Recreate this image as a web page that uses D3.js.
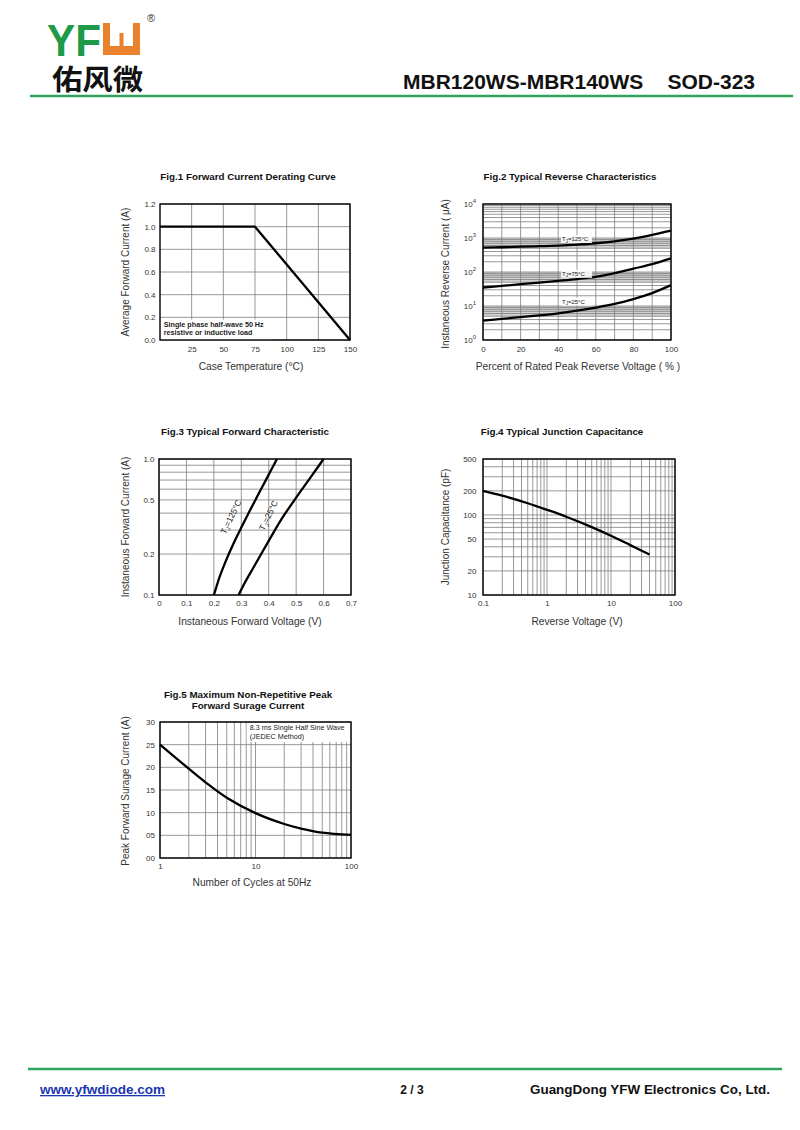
<!DOCTYPE html>
<html><head><meta charset="utf-8">
<script src="https://cdn.jsdelivr.net/npm/d3@7"></script>
<style>body{margin:0;background:#fff}</style>
</head><body>
<script>
// ---------------- data ----------------
const fig1Temp = [0, 75, 150];
const fig1Current = [1.0, 1.0, 0.0];
const fig1XTicks = [25, 50, 75, 100, 125, 150];
const fig1YTicks = [0, 0.2, 0.4, 0.6, 0.8, 1.0, 1.2];

const fig2Pct = [0, 10, 20, 30, 40, 50, 60, 70, 80, 90, 100];
const fig2I125 = [520, 535, 555, 575, 600, 640, 700, 800, 960, 1230, 1640];
const fig2I75 = [35, 39, 44, 49, 55, 62, 72, 92, 125, 170, 250];
const fig2I25 = [3.7, 4.2, 4.7, 5.3, 6.1, 7.3, 9.0, 11.5, 16, 24, 41];
const fig2XTicks = [0, 20, 40, 60, 80, 100];
const fig2YTicks = [1, 10, 100, 1000, 10000];
const fig2Bands = [[5, 10], [50, 100], [500, 1000]];
const fig2Labels = ["125", "75", "25"];
const fig2LabelY = [930, 88, 13.4];

const fig3V125 = [0.2, 0.21, 0.22, 0.24, 0.27, 0.3, 0.35, 0.4, 0.43];
const fig3I125 = [0.1, 0.116, 0.134, 0.171, 0.235, 0.313, 0.494, 0.768, 1.0];
const fig3V25 = [0.29, 0.31, 0.345, 0.40, 0.45, 0.50, 0.55, 0.60];
const fig3I25 = [0.1, 0.12, 0.16, 0.25, 0.37, 0.52, 0.72, 1.0];
const fig3XTicks = [0, 0.1, 0.2, 0.3, 0.4, 0.5, 0.6, 0.7];
const fig3YTicks = [0.1, 0.2, 0.5, 1.0];

const fig4V = [0.1, 0.2, 0.5, 1, 2, 5, 10, 20, 40];
const fig4C = [200, 174, 140, 116, 95, 70.5, 55, 42, 32];
const fig4XTicks = [0.1, 1, 10, 100];
const fig4YTicks = [10, 20, 50, 100, 200, 500];

const fig5Cycles = [1, 2, 3, 5, 10, 20, 30, 50, 100];
const fig5Surge = [25, 19.7, 16.7, 13.3, 9.9, 7.5, 6.5, 5.6, 5.1];
const fig5XTicks = [1, 10, 100];
const fig5YTicks = [0, 5, 10, 15, 20, 25, 30];

// ---------------- drawing ----------------
const FONT = "'Liberation Sans', Arial, sans-serif";
const svg = d3.select("body").append("svg")
  .attr("width", 800).attr("height", 1130)
  .style("font-family", FONT);

// Header
const GREEN = "#2ea35c";
svg.append("text").attr("x", 47).attr("y", 55.5)
  .attr("font-size", 45).attr("font-weight", "bold").attr("fill", "#1f9a48")
  .attr("textLength", 54).attr("lengthAdjust", "spacingAndGlyphs").text("YF");
svg.append("path")
  .attr("d", "M103,23 H110 V46 H119.5 V33 H123.5 V46 H133 V23 H140 V55 H103 Z")
  .attr("fill", "#ea812c");
svg.append("text").attr("x", 147).attr("y", 22).attr("font-size", 11).attr("fill", "#333").text("®");
svg.append("text").attr("x", 52).attr("y", 89.8)
  .attr("font-family", "'Noto Sans CJK SC', sans-serif")
  .attr("font-size", 28).attr("font-weight", "bold").attr("fill", "#111")
  .attr("textLength", 91).attr("lengthAdjust", "spacingAndGlyphs").text("佑风微");
svg.append("text").attr("x", 403).attr("y", 89).attr("font-size", 21).attr("font-weight", "bold")
  .attr("fill", "#111").text("MBR120WS-MBR140WS");
svg.append("text").attr("x", 755).attr("y", 89).attr("font-size", 21).attr("font-weight", "bold")
  .attr("fill", "#111").attr("text-anchor", "end").text("SOD-323");
svg.append("line").attr("x1", 30).attr("x2", 793).attr("y1", 96).attr("y2", 96)
  .attr("stroke", GREEN).attr("stroke-width", 2.5);

// Footer
svg.append("line").attr("x1", 28).attr("x2", 782).attr("y1", 1069).attr("y2", 1069)
  .attr("stroke", GREEN).attr("stroke-width", 2.5);
svg.append("text").attr("x", 40).attr("y", 1094).attr("font-size", 13).attr("font-weight", "bold")
  .attr("fill", "#1a36b0").attr("text-decoration", "underline")
  .attr("textLength", 125).attr("lengthAdjust", "spacingAndGlyphs").text("www.yfwdiode.com");
svg.append("text").attr("x", 412).attr("y", 1094).attr("font-size", 12).attr("font-weight", "bold")
  .attr("text-anchor", "middle").attr("fill", "#111").text("2 / 3");
svg.append("text").attr("x", 530).attr("y", 1094).attr("font-size", 13).attr("font-weight", "bold")
  .attr("fill", "#111").attr("textLength", 240).attr("lengthAdjust", "spacingAndGlyphs")
  .text("GuangDong YFW Electronics Co, Ltd.");

function panel(o) {
  const g = svg.append("g");
  const x = o.x, y = o.y;
  const [x0, x1] = x.range();
  const [yb, yt] = y.range();
  (o.bands || []).forEach(b => {
    g.append("rect").attr("x", x0).attr("width", x1 - x0)
      .attr("y", y(b[1])).attr("height", y(b[0]) - y(b[1])).attr("fill", "#d2d2d2");
  });
  g.selectAll(".vg").data(o.xGrid).join("line")
    .attr("x1", d => x(d)).attr("x2", d => x(d)).attr("y1", yt).attr("y2", yb)
    .attr("stroke", "#7d7d7d").attr("stroke-width", 0.8);
  g.selectAll(".hg").data(o.yGrid).join("line")
    .attr("y1", d => y(d)).attr("y2", d => y(d)).attr("x1", x0).attr("x2", x1)
    .attr("stroke", "#7d7d7d").attr("stroke-width", 0.8);
  if (o.note) o.note(g, x, y);
  g.append("rect").attr("x", x0).attr("y", yt).attr("width", x1 - x0).attr("height", yb - yt)
    .attr("fill", "none").attr("stroke", "#000").attr("stroke-width", 1.4);
  const line = d3.line().x(d => x(d[0])).y(d => y(d[1])).curve(o.curve || d3.curveCatmullRom.alpha(0.5));
  o.series.forEach(s => {
    g.append("path").datum(d3.zip(s[0], s[1])).attr("d", line)
      .attr("fill", "none").attr("stroke", "#000").attr("stroke-width", 2.3).attr("stroke-linejoin", "round");
  });
  const ax = g.append("g").attr("transform", `translate(0,${yb})`)
    .call(d3.axisBottom(x).tickValues(o.xTicks).tickFormat(o.xFmt).tickSize(0).tickPadding(o.xPad));
  ax.select(".domain").remove();
  ax.attr("font-family", FONT).attr("font-size", 8).selectAll("text").attr("fill", "#333");
  const ay = g.append("g").attr("transform", `translate(${x0},0)`)
    .call(d3.axisLeft(y).tickValues(o.yTicks).tickFormat(o.yFmt).tickSize(0).tickPadding(o.yPad));
  ay.select(".domain").remove();
  ay.attr("font-family", FONT).attr("font-size", 8).selectAll("text").attr("fill", "#333");
  if (o.yPost) o.yPost(ay);
  o.title.forEach((t, i) => {
    g.append("text").attr("x", o.titleX).attr("y", o.titleY + i * 11).attr("text-anchor", "middle")
      .attr("font-size", 9.8).attr("font-weight", "bold").attr("fill", "#111").text(t);
  });
  g.append("text").attr("x", o.xLabelX).attr("y", o.xLabelY).attr("text-anchor", "middle")
    .attr("font-size", 10.2).attr("fill", "#333").text(o.xLabel);
  g.append("text").attr("transform", `translate(${o.yLabelX},${o.yLabelY}) rotate(-90)`)
    .attr("text-anchor", "middle").attr("dy", "0.35em")
    .attr("font-size", 10).attr("fill", "#333").text(o.yLabel);
  if (o.labels) o.labels(g, x, y);
}

// Fig.1
panel({
  x: d3.scaleLinear().domain([0, 150]).range([160, 350]),
  y: d3.scaleLinear().domain([0, 1.2]).range([340, 204]),
  xGrid: fig1XTicks, yGrid: fig1YTicks,
  xTicks: fig1XTicks, yTicks: fig1YTicks,
  xFmt: d3.format("d"), yFmt: d3.format(".1f"), xPad: 6, yPad: 4.5,
  series: [[fig1Temp, fig1Current]], curve: d3.curveLinear,
  note: (g, x, y) => {
    g.append("rect").attr("x", x(0) + 1).attr("y", y(0.18)).attr("width", x(88) - x(0))
      .attr("height", y(0) - y(0.18)).attr("fill", "#fff");
    g.append("text").attr("x", x(3)).attr("y", y(0.115)).attr("font-size", 7.2).attr("font-weight", "bold")
      .attr("fill", "#222").text("Single phase half-wave 50 Hz");
    g.append("text").attr("x", x(3)).attr("y", y(0.045)).attr("font-size", 7.2).attr("font-weight", "bold")
      .attr("fill", "#222").text("resistive or inductive load");
  },
  title: ["Fig.1  Forward Current Derating Curve"], titleX: 248, titleY: 180,
  xLabel: "Case  Temperature (°C)", xLabelX: 251, xLabelY: 370,
  yLabel: "Average Forward Current (A)", yLabelX: 125, yLabelY: 272
});

// Fig.2
panel({
  x: d3.scaleLinear().domain([0, 100]).range([483, 671]),
  y: d3.scaleLog().domain([1, 10000]).range([340, 204]),
  bands: fig2Bands,
  xGrid: d3.range(0, 101, 10), yGrid: d3.scaleLog().domain([1, 10000]).ticks(),
  xTicks: fig2XTicks, yTicks: fig2YTicks,
  xFmt: d3.format("d"), yFmt: () => "", xPad: 6, yPad: 7,
  yPost: ay => {
    ay.selectAll(".tick text").each(function(d) {
      const t = d3.select(this);
      t.text("10");
      t.append("tspan").attr("dy", -4).attr("font-size", 6).text(Math.round(Math.log10(d)));
    });
  },
  series: [[fig2Pct, fig2I125], [fig2Pct, fig2I75], [fig2Pct, fig2I25]],
  labels: (g, x, y) => {
    fig2Labels.forEach((l, i) => {
      g.append("rect").attr("x", x(42) - 1).attr("y", y(fig2LabelY[i]) - 4).attr("width", 31).attr("height", 8)
        .attr("fill", "#fff").attr("opacity", 0.85);
      const t = g.append("text").attr("x", x(42)).attr("y", y(fig2LabelY[i])).attr("dy", "0.35em")
        .attr("font-size", 6).attr("fill", "#222").text("T");
      t.append("tspan").attr("font-size", 4.5).attr("dy", 1.5).text("J");
      t.append("tspan").attr("dy", -1.5).text("=" + l + "°C");
    });
  },
  title: ["Fig.2  Typical Reverse Characteristics"], titleX: 570, titleY: 180,
  xLabel: "Percent of Rated Peak Reverse Voltage ( % )", xLabelX: 578, xLabelY: 370,
  yLabel: "Instaneous Reverse Current ( μA)", yLabelX: 445, yLabelY: 274
});

// Fig.3
panel({
  x: d3.scaleLinear().domain([0, 0.7]).range([159, 351]),
  y: d3.scaleLog().domain([0.1, 1]).range([595, 459]),
  xGrid: fig3XTicks, yGrid: d3.scaleLog().domain([0.1, 1]).ticks(),
  xTicks: fig3XTicks, yTicks: fig3YTicks,
  xFmt: d => d === 0 ? "0" : d3.format(".1f")(d), yFmt: d3.format(".1f"), xPad: 5.5, yPad: 4.5,
  series: [[fig3V125, fig3I125], [fig3V25, fig3I25]],
  labels: (g, x, y) => {
    [["125", 0.262, 0.375], ["25", 0.399, 0.385]].forEach(([l, vx, vy]) => {
      const t = g.append("text")
        .attr("transform", `translate(${x(vx)},${y(vy)}) rotate(-64)`)
        .attr("text-anchor", "middle").attr("dy", "0.35em")
        .attr("font-size", 8.5).attr("fill", "#222").text("T");
      t.append("tspan").attr("font-size", 6).attr("dy", 2).text("J");
      t.append("tspan").attr("dy", -2).text("=" + l + "°C");
    });
  },
  title: ["Fig.3  Typical Forward Characteristic"], titleX: 245, titleY: 435,
  xLabel: "Instaneous Forward Voltage (V)", xLabelX: 250, xLabelY: 625,
  yLabel: "Instaneous Forward Current  (A)", yLabelX: 125, yLabelY: 527
});

// Fig.4
panel({
  x: d3.scaleLog().domain([0.1, 100]).range([483, 675]),
  y: d3.scaleLog().domain([10, 500]).range([595, 459]),
  xGrid: d3.scaleLog().domain([0.1, 100]).ticks(), yGrid: d3.scaleLog().domain([10, 500]).ticks(),
  xTicks: fig4XTicks, yTicks: fig4YTicks,
  xFmt: d => String(d), yFmt: d => String(d), xPad: 5.5, yPad: 6.5,
  series: [[fig4V, fig4C]],
  title: ["Fig.4  Typical Junction Capacitance"], titleX: 562, titleY: 435,
  xLabel: "Reverse  Voltage (V)", xLabelX: 577, xLabelY: 625,
  yLabel: "Junction Capacitance (pF)", yLabelX: 445, yLabelY: 527
});

// Fig.5
panel({
  x: d3.scaleLog().domain([1, 100]).range([160, 351]),
  y: d3.scaleLinear().domain([0, 30]).range([858, 722]),
  xGrid: d3.scaleLog().domain([1, 100]).ticks(), yGrid: fig5YTicks,
  xTicks: fig5XTicks, yTicks: fig5YTicks,
  xFmt: d => String(d), yFmt: d3.format("02d"), xPad: 5.5, yPad: 5,
  series: [[fig5Cycles, fig5Surge]],
  note: (g, x, y) => {
    g.append("rect").attr("x", x(8.1)).attr("y", y(30) + 1).attr("width", x(99) - x(8.1))
      .attr("height", y(25.8) - y(30)).attr("fill", "#fff");
    g.append("text").attr("x", x(8.7)).attr("y", y(28.3)).attr("font-size", 7.2)
      .attr("fill", "#222").text("8.3 ms Single Half Sine Wave");
    g.append("text").attr("x", x(8.7)).attr("y", y(26.3)).attr("font-size", 7.2)
      .attr("fill", "#222").text("(JEDEC Method)");
  },
  title: ["Fig.5  Maximum Non-Repetitive Peak", "Forward Surage Current"], titleX: 248, titleY: 698,
  xLabel: "Number of Cycles at 50Hz", xLabelX: 252, xLabelY: 886,
  yLabel: "Peak Forward Surage Current (A)", yLabelX: 125, yLabelY: 791
});
</script>
</body></html>
